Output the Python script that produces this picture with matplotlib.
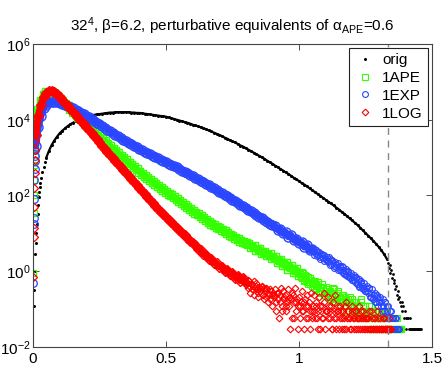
import numpy as np
import matplotlib
matplotlib.use('Agg')
import matplotlib.pyplot as plt
from matplotlib.lines import Line2D

plt.rcParams['font.family'] = ['Liberation Sans', 'DejaVu Sans']
plt.rcParams['mathtext.fontset'] = 'custom'
plt.rcParams['mathtext.rm'] = 'Liberation Sans'
plt.rcParams['mathtext.it'] = 'Liberation Sans:italic'
plt.rcParams['mathtext.default'] = 'regular'

# one histogram count in the plotted units
unit = 0.03

# ---- orig (black dots) ----
orig_left_x = [0.003, 0.005, 0.007, 0.009, 0.011, 0.013, 0.015, 0.017, 0.019, 0.021,
               0.023, 0.025, 0.027, 0.03, 0.035, 0.04, 0.045]
orig_left_log = [-0.92, -0.5, 0.0, 0.45, 0.75, 1.0, 1.25, 1.5, 1.75, 1.95,
                 2.1, 2.22, 2.32, 2.45, 2.62, 2.76, 2.88]
# bins 0.05 ... 1.33 step 0.01
orig_log = [3.0, 3.18, 3.33, 3.45, 3.55, 3.64, 3.71, 3.77, 3.83, 3.88,
            3.92, 3.96, 3.99, 4.02, 4.05, 4.07, 4.09, 4.11, 4.13, 4.14,
            4.15, 4.16, 4.17, 4.18, 4.19, 4.19, 4.2, 4.2, 4.2, 4.2,
            4.2, 4.2, 4.19, 4.19, 4.18, 4.18, 4.17, 4.16, 4.15, 4.14,
            4.13, 4.12, 4.11, 4.1, 4.09, 4.08, 4.06, 4.04, 4.02, 4.0,
            3.98, 3.96, 3.94, 3.92, 3.9, 3.87, 3.85, 3.83, 3.8, 3.78,
            3.75, 3.72, 3.69, 3.66, 3.63, 3.6, 3.57, 3.53, 3.5, 3.46,
            3.43, 3.4, 3.36, 3.32, 3.29, 3.25, 3.21, 3.17, 3.13, 3.09,
            3.05, 3.01, 2.97, 2.92, 2.88, 2.84, 2.79, 2.75, 2.7, 2.66,
            2.61, 2.57, 2.52, 2.47, 2.43, 2.38, 2.33, 2.29, 2.24, 2.19,
            2.14, 2.09, 2.04, 1.99, 1.94, 1.89, 1.84, 1.79, 1.74, 1.68,
            1.63, 1.57, 1.52, 1.46, 1.4, 1.34, 1.28, 1.22, 1.15, 1.08,
            1.01, 0.94, 0.87, 0.8, 0.72, 0.64, 0.55, 0.45, 0.33]
# tail 1.335 ... 1.458 step 0.003, in counts
orig_tail = [55, 40, 48, 30, 36, 22, 28, 16, 20, 11, 14, 8, 10, 6, 7, 5, 4, 5, 3, 4, 2,
             3, 2, 1, 2, 2, 1, 2, 1, 1, 1, 1, 1, 1, 1, 1, 1, 1, 1, 1, 1, 1]

# ---- 1APE (green squares) ----
ape_left_x = [0.001, 0.002, 0.003, 0.004, 0.005, 0.006, 0.007, 0.008, 0.009]
ape_left_log = [-0.05, 1.54, 2.0, 2.4, 2.8, 3.1, 3.35, 3.55, 3.7]
# bins 0.01 ... 1.00
ape_log = [3.8, 4.25, 4.5, 4.65, 4.72, 4.73, 4.72, 4.68, 4.62, 4.56,
           4.49, 4.42, 4.35, 4.28, 4.21, 4.14, 4.08, 4.01, 3.95, 3.88,
           3.82, 3.75, 3.69, 3.62, 3.56, 3.49, 3.43, 3.37, 3.3, 3.24,
           3.18, 3.11, 3.05, 2.99, 2.93, 2.87, 2.81, 2.75, 2.69, 2.63,
           2.58, 2.52, 2.47, 2.41, 2.36, 2.31, 2.25, 2.2, 2.15, 2.1,
           2.05, 2.0, 1.95, 1.9, 1.85, 1.8, 1.75, 1.7, 1.65, 1.6,
           1.55, 1.5, 1.45, 1.41, 1.36, 1.31, 1.26, 1.22, 1.17, 1.13,
           1.09, 1.05, 1.01, 0.97, 0.93, 0.89, 0.85, 0.81, 0.77, 0.74,
           0.72, 0.65, 0.66, 0.57, 0.6, 0.49, 0.52, 0.42, 0.45, 0.34,
           0.37, 0.25, 0.3, 0.16, 0.22, 0.07, 0.13, -0.02, 0.05, -0.1]
# tails in counts: a = 1.005 ... step 0.005, b = 1.0075 ... step 0.005
ape_tail_a = [28, 22, 30, 19, 25, 17, 23, 15, 20, 16,
              14, 18, 12, 15, 10, 13, 9, 12, 8, 11,
              9, 7, 10, 6, 8, 11, 5, 7, 9, 6,
              7, 5, 8, 4, 6, 5, 3, 7, 4, 5,
              4, 3, 5, 2, 4, 3, 6, 2, 3, 4,
              3, 2, 4, 1, 3, 2, 3, 1, 2, 3,
              2, 1, 3, 2, 1, 2, 1, 1, 2, 1,
              1, 2, 1, 1, 1, 1, 1]
ape_tail_b = [24, 32, 18, 26, 21, 15, 19, 22, 14, 17,
              16, 11, 14, 17, 9, 12, 15, 8, 10, 13,
              8, 10, 6, 9, 12, 5, 8, 6, 10, 5,
              6, 8, 4, 7, 3, 6, 5, 4, 6, 3,
              5, 2, 4, 3, 2, 5, 3, 2, 4, 2,
              2, 3, 1, 4, 2, 1, 3, 2, 1, 2,
              1, 2, 2, 1, 3, 1, 2, 1, 1, 2,
              1, 1, 2, 1, 1, 1]

# ---- 1EXP (blue circles) ----
exp_left_x = [0.001, 0.002, 0.003, 0.004, 0.005, 0.006, 0.007, 0.008, 0.009]
exp_left_log = [-0.3, 1.25, 1.4, 1.9, 2.4, 2.7, 2.9, 3.05, 3.2]
# bins 0.01 ... 1.05
exp_log = [3.3, 3.8, 4.1, 4.3, 4.4, 4.46, 4.48, 4.48, 4.47, 4.45,
           4.42, 4.39, 4.36, 4.33, 4.3, 4.26, 4.22, 4.18, 4.14, 4.1,
           4.06, 4.01, 3.97, 3.92, 3.88, 3.83, 3.79, 3.74, 3.7, 3.65,
           3.61, 3.56, 3.52, 3.47, 3.43, 3.39, 3.35, 3.31, 3.27, 3.23,
           3.19, 3.16, 3.12, 3.09, 3.05, 3.02, 2.98, 2.95, 2.91, 2.88,
           2.84, 2.81, 2.77, 2.74, 2.7, 2.66, 2.62, 2.59, 2.55, 2.51,
           2.47, 2.43, 2.39, 2.35, 2.31, 2.27, 2.23, 2.19, 2.14, 2.1,
           2.06, 2.02, 1.98, 1.94, 1.89, 1.85, 1.8, 1.76, 1.71, 1.67,
           1.62, 1.58, 1.53, 1.49, 1.44, 1.4, 1.35, 1.31, 1.26, 1.22,
           1.2, 1.1, 1.12, 1.0, 1.03, 0.91, 0.95, 0.83, 0.86, 0.74,
           0.78, 0.64, 0.69, 0.55, 0.6]
# tails in counts: a = 1.055 ... step 0.005, b = 1.0575 ... step 0.005
exp_tail_a = [115, 100, 120, 90, 105, 80, 98, 75, 90, 70,
              78, 58, 72, 52, 66, 45, 60, 42, 55, 38,
              46, 32, 42, 28, 38, 25, 34, 22, 30, 20,
              27, 17, 24, 15, 21, 13, 18, 11, 16, 10,
              14, 9, 12, 7, 11, 6, 9, 5, 8, 5,
              7, 4, 6, 3, 5, 3, 4, 2, 3, 2,
              2, 1, 2, 1, 1]
exp_tail_b = [92, 125, 85, 110, 70, 95, 85, 62, 80, 66,
              62, 80, 48, 63, 55, 40, 52, 48, 35, 44,
              36, 45, 30, 33, 26, 31, 24, 27, 19, 23,
              20, 22, 15, 19, 13, 16, 12, 14, 10, 12,
              10, 12, 7, 9, 6, 8, 5, 7, 4, 6,
              5, 3, 4, 5, 2, 4, 2, 3, 1, 2,
              1, 2, 1, 1]

# ---- 1LOG (red diamonds) ----
log_left_x = [0.001, 0.002, 0.003, 0.004, 0.005, 0.006, 0.007, 0.008, 0.009]
log_left_log = [-0.15, 0.9, 1.15, 1.7, 2.2, 2.6, 2.95, 3.2, 3.45]
# bins 0.01 ... 0.80
log_log = [3.6, 4.1, 4.4, 4.6, 4.71, 4.76, 4.77, 4.74, 4.68, 4.6,
           4.52, 4.44, 4.36, 4.28, 4.2, 4.12, 4.04, 3.96, 3.88, 3.8,
           3.72, 3.64, 3.56, 3.48, 3.4, 3.32, 3.24, 3.16, 3.08, 3.0,
           2.92, 2.84, 2.76, 2.68, 2.6, 2.52, 2.44, 2.36, 2.28, 2.2,
           2.12, 2.04, 1.96, 1.88, 1.8, 1.72, 1.64, 1.57, 1.5, 1.43,
           1.36, 1.29, 1.22, 1.15, 1.08, 1.01, 0.95, 0.88, 0.81, 0.74,
           0.69, 0.59, 0.56, 0.46, 0.44, 0.33, 0.32, 0.22, 0.21, 0.12,
           0.12, 0.0, 0.04, -0.08, -0.04, -0.17, -0.12, -0.25, -0.18, -0.32]
# tails in counts: a = 0.805 ... step 0.005, b = 0.8075 ... step 0.005
log_tail_a = [16, 20, 13, 15, 11, 18, 12, 14, 9, 13,
              10, 14, 8, 12, 7, 11, 9, 6, 10, 8,
              7, 11, 5, 9, 2, 8, 4, 10, 6, 3,
              5, 11, 1, 6, 9, 2, 12, 5, 1, 7,
              4, 10, 3, 5, 2, 8, 4, 1, 9, 3,
              8, 2, 4, 3, 7, 1, 4, 2, 9, 3,
              3, 7, 2, 4, 1, 3, 8, 2, 3, 1,
              4, 2, 3, 1, 5, 2, 3, 2, 1, 4,
              2, 3, 1, 2, 4, 1, 2, 3, 1, 2,
              1, 2, 3, 1, 2, 1, 2, 1, 3, 1,
              2, 1, 1, 2, 1, 1, 1, 2, 1]
log_tail_b = [12, 18, 9, 15, 14, 8, 16, 11, 7, 12,
              9, 13, 6, 10, 12, 5, 8, 11, 4, 9,
              8, 3, 9, 6, 5, 12, 3, 7, 8, 4,
              6, 4, 7, 2, 8, 5, 3, 6, 4, 2,
              5, 3, 1, 6, 4, 2, 5, 3, 2, 4,
              3, 5, 2, 1, 4, 3, 2, 5, 1, 3,
              2, 4, 3, 1, 5, 2, 1, 3, 4, 2,
              3, 1, 2, 4, 1, 3, 2, 1, 3, 2,
              1, 3, 2, 1, 2, 3, 1, 2, 1, 2,
              2, 1, 1, 3, 1, 2, 1, 1, 2, 1,
              1, 1, 2, 1, 1, 1, 1, 1]

green = '#33ff00'
blue = '#2a46ff'
red = '#ff0000'

fig = plt.figure(figsize=(4.47, 3.66), dpi=100)
ax = fig.add_axes([0.0738, 0.0519, 0.8926, 0.8279])

# orig
ax.plot(orig_left_x, 10 ** np.array(orig_left_log), ls='none', marker='o', ms=2.2,
        mfc='k', mec='k', mew=0)
ox = 0.05 + 0.01 * np.arange(len(orig_log))
ax.plot(ox, 10 ** np.array(orig_log), color='k', lw=1.6, marker='o', ms=2.2,
        mfc='k', mec='k', mew=0)
otx = 1.335 + 0.003 * np.arange(len(orig_tail))
ax.plot(otx, unit * np.array(orig_tail), ls='none', marker='o', ms=2.0,
        mfc='k', mec='k', mew=0)

series = [
    (ape_left_x, ape_left_log, ape_log, 1.005, ape_tail_a, ape_tail_b, 's', green, 3.8),
    (exp_left_x, exp_left_log, exp_log, 1.055, exp_tail_a, exp_tail_b, 'o', blue, 4.2),
    (log_left_x, log_left_log, log_log, 0.805, log_tail_a, log_tail_b, 'D', red, 3.4),
]
for lx, llog, mlog, t0, ta, tb, mk, col, ms in series:
    ax.plot(lx, 10 ** np.array(llog), ls='none', marker=mk, ms=ms * 1.3,
            mfc='none', mec=col, mew=0.9)
    mx = 0.01 * np.arange(1, len(mlog) + 1)
    ax.plot(mx, 10 ** np.array(mlog), color=col, lw=5.0, solid_capstyle='round',
            marker=mk, ms=ms * 1.55, mfc='none', mec=col, mew=1.0)
    for t, tail in ((t0, ta), (t0 + 0.0025, tb)):
        tx = t + 0.005 * np.arange(len(tail))
        ax.plot(tx, unit * np.array(tail), ls='none', marker=mk, ms=ms,
                mfc='none', mec=col, mew=0.8)

ax.axvline(4.0 / 3.0, color='#888888', ls=(0, (5, 4)), lw=1.0)

ax.set_yscale('log')
ax.set_xlim(0, 1.5)
ax.set_ylim(1e-2, 1e6)
ax.set_xticks([0, 0.5, 1, 1.5])
ax.set_xticklabels(['0', '0.5', '1', '1.5'])
ax.set_yticks([1e-2, 1e0, 1e2, 1e4, 1e6])
ax.minorticks_off()
ax.tick_params(direction='in', length=4, width=0.6, top=True, right=True,
               labelsize=11, colors='#333333', labelcolor='k')
ax.tick_params(axis='y', pad=2)
for s in ax.spines.values():
    s.set_color('#444444')
    s.set_linewidth(0.8)

ax.set_title(r'32$^4$, β=6.2, perturbative equivalents of α$_{APE}$=0.6',
             fontsize=11, pad=9)

handles = [
    Line2D([], [], ls='none', marker='o', ms=2.2, mfc='k', mec='k', mew=0),
    Line2D([], [], ls='none', marker='s', ms=3.8, mfc='none', mec=green, mew=0.8),
    Line2D([], [], ls='none', marker='o', ms=4.2, mfc='none', mec=blue, mew=0.8),
    Line2D([], [], ls='none', marker='D', ms=3.4, mfc='none', mec=red, mew=0.8),
]
leg = ax.legend(handles, ['orig', '1APE', '1EXP', '1LOG'], loc='upper right',
                fontsize=11, frameon=True, fancybox=False, framealpha=1,
                borderaxespad=0.25, labelspacing=0.25, handlelength=1.3,
                handletextpad=0.5, borderpad=0.35)
leg.get_frame().set_edgecolor('#222222')
leg.get_frame().set_linewidth(0.8)

fig.savefig('out.png', dpi=100)
